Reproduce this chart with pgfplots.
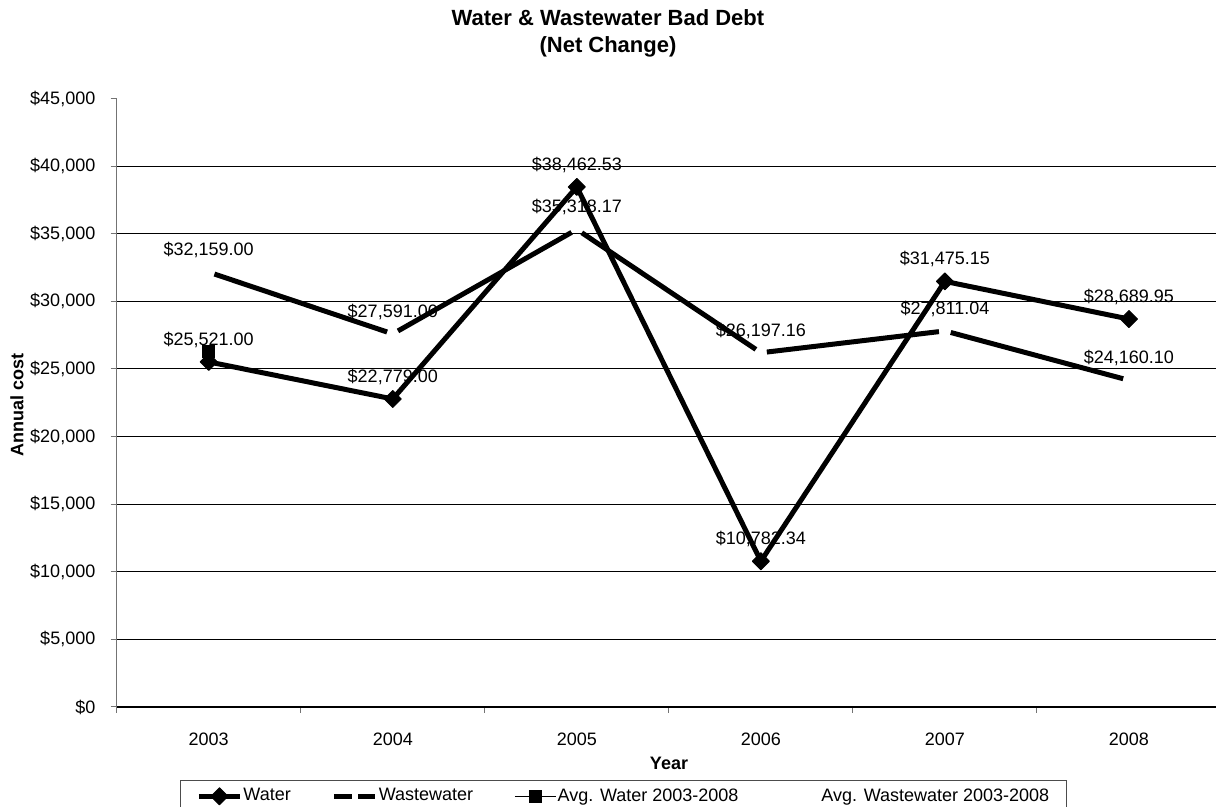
\documentclass[border=0pt]{standalone}
\usepackage{pgfplots}
\pgfplotsset{compat=1.18}
\usepackage{fontspec}
\setmainfont{Liberation Sans}

\begin{document}
\begin{tikzpicture}
\begin{axis}[
  scale only axis,
  width=552.15pt, height=304.25pt,
  at={(0,0)}, anchor=south west,
  xmin=-0.5, xmax=5.5,
  ymin=0, ymax=45000,
  scaled y ticks=false,
  axis lines*=left,
  clip=false,
  x axis line style={black, line width=0.6pt},
  y axis line style={black!55, line width=0.6pt},
  tick align=outside,
  major tick length=3pt, minor tick length=3pt,
  tick style={black!55, line width=0.5pt},
  xtick={0,...,5},
  xticklabels={2003,2004,2005,2006,2007,2008},
  major x tick style={draw=none},
  minor xtick={-0.5,0.5,1.5,2.5,3.5,4.5},
  ytick={0,5000,...,40000},
  yticklabels={{\$0},{\$5,000},{\$10,000},{\$15,000},{\$20,000},{\$25,000},{\$30,000},{\$35,000},{\$40,000}},
  extra y ticks={45000},
  extra y tick labels={\$45{,}000},
  extra y tick style={grid=none},
  ymajorgrids,
  grid style={black, line width=0.5pt},
  ticklabel style={font=\fontsize{9}{10}\selectfont},
  xticklabel style={anchor=base, yshift=-16.25pt},
  yticklabel style={anchor=east, inner sep=0pt, xshift=-7.5pt},
  legend columns=-1,
  legend cell align=left,
  legend image code/.code={\draw[mark repeat=2,mark phase=2,#1] plot coordinates {(0pt,0pt) (10.25pt,0pt) (20.5pt,0pt)};},
  legend style={at={(axis description cs:0.0573,-0.12)}, anchor=north west,
    draw=black!70, line width=0.5pt, font=\fontsize{9}{10}\selectfont,
    inner xsep=8pt, inner ysep=2pt,
    nodes={inner xsep=0.5pt, inner ysep=2pt},
    /tikz/every even column/.append style={column sep=20pt}},
  every node near coord/.append style={font=\fontsize{9}{10}\selectfont, text=black, anchor=base, inner sep=0pt, yshift=8.3pt},
]

% Water
\addplot[black, line width=2.5pt, line join=round,
  mark=square*, mark size=3pt, mark options={rotate=45, solid, line width=0.5pt},
  point meta=explicit symbolic, nodes near coords={\$\pgfplotspointmeta}]
  coordinates {(0,25521)[25,521.00] (1,22779)[22,779.00] (2,38462.53)[38,462.53]
               (3,10782.34)[10,782.34] (4,31475.15)[31,475.15] (5,28689.95)[28,689.95]};
\addlegendentry{Water}

\addlegendimage{black, line width=2.5pt, dash pattern=on 9pt off 3pt}
\addlegendentry{Wastewater}

% Avg. Water 2003-2008
\addplot[black, line width=0.75pt, mark=square*, mark size=2.75pt]
  coordinates {(0,26285)};
\addlegendentry{Avg. Water 2003-2008}

% Avg. Wastewater 2003-2008 (no line, no marker)
\addplot[draw=none, mark=none,
  legend image code/.code={\path (0pt,0pt) -- (20.5pt,0pt);}]
  coordinates {(0,28872.75)};
\addlegendentry{Avg. Wastewater 2003-2008}

% Wastewater, drawn segment by segment
\addplot[forget plot, black, line width=2.5pt, shorten <=3pt, shorten >=3pt] coordinates {(0,32159) (1,27591)};
\addplot[forget plot, black, line width=2.5pt, shorten <=3pt, shorten >=3pt] coordinates {(1,27591) (2,35318.17)};
\addplot[forget plot, black, line width=2.5pt, shorten <=3pt, shorten >=3pt] coordinates {(2,35318.17) (3,26197.16)};
\addplot[forget plot, black, line width=2.5pt, shorten <=3pt, shorten >=3pt] coordinates {(3,26197.16) (4,27811.04)};
\addplot[forget plot, black, line width=2.5pt, shorten <=3pt, shorten >=3pt] coordinates {(4,27811.04) (5,24160.10)};
\addplot[forget plot, draw=none, mark=none,
  point meta=explicit symbolic, nodes near coords={\$\pgfplotspointmeta}]
  coordinates {(0,32159)[32,159.00] (1,27591)[27,591.00] (2,35318.17)[35,318.17]
               (3,26197.16)[26,197.16] (4,27811.04)[27,811.04] (5,24160.10)[24,160.10]};
\end{axis}

\node[font=\bfseries\fontsize{11}{13}\selectfont] at (245.65pt,344.5pt) {Water \& Wastewater Bad Debt};
\node[font=\bfseries\fontsize{11}{13}\selectfont] at (245.65pt,330pt) {(Net Change)};
\node[rotate=90, font=\bfseries\fontsize{9}{10}\selectfont] at (-49.85pt,151pt) {Annual cost};
\node[font=\bfseries\fontsize{9}{10}\selectfont] at (276.15pt,-28pt) {Year};

\pgfresetboundingbox
\useasboundingbox (-58.35pt,-50pt) rectangle (549.65pt,353.5pt);
\end{tikzpicture}
\end{document}
